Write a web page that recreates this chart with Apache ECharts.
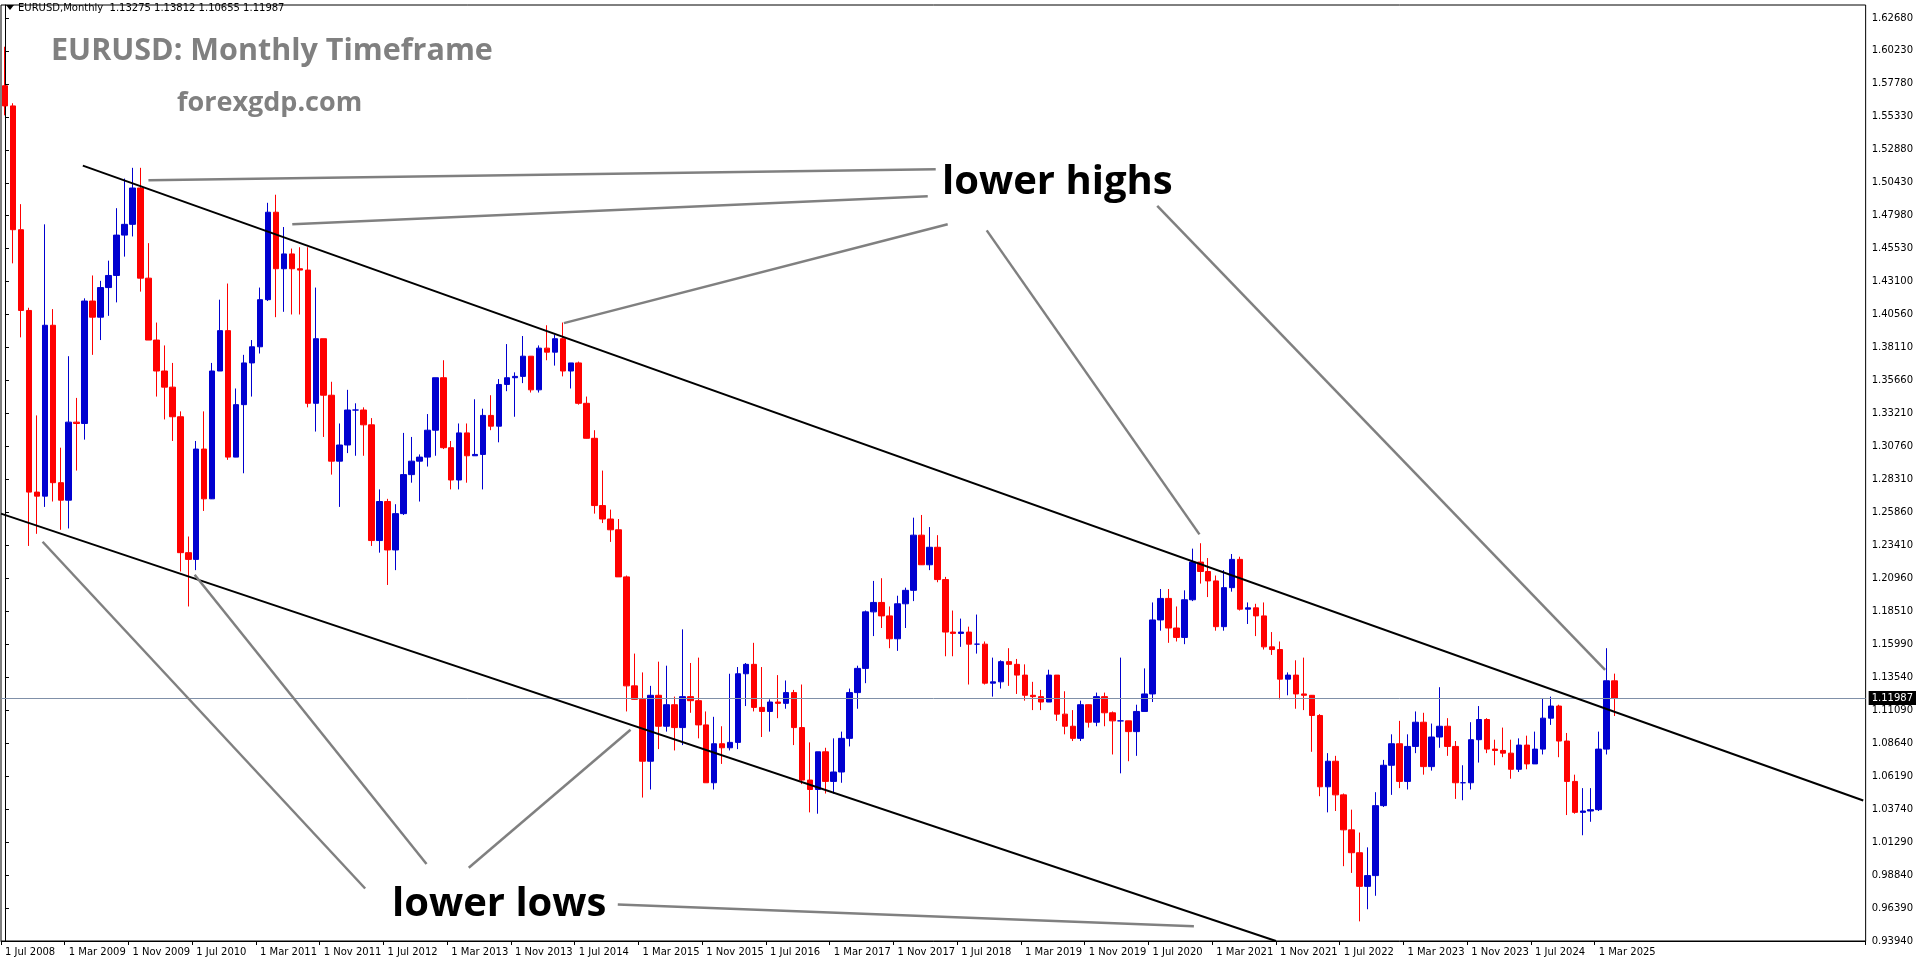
<!DOCTYPE html>
<html><head><meta charset="utf-8">
<script src="https://cdn.jsdelivr.net/npm/echarts@6/dist/echarts.min.js"></script>
<style>html,body{margin:0;padding:0;background:#fff}#c{width:1916px;height:964px}</style>
</head><body><div id="c"></div>
<script>
const months=['Jan','Feb','Mar','Apr','May','Jun','Jul','Aug','Sep','Oct','Nov','Dec'];
const firstOpen=1.5750;
const closes=[1.5600,1.4680,1.4080,1.2730,1.2700,1.3970,
1.2800,1.2670,1.3250,1.3240,1.4150,1.4030,1.4250,1.4340,1.4640,1.4720,1.4990,1.4320,
1.3860,1.3630,1.3510,1.3290,1.2280,1.2230,1.3050,1.2680,1.3630,1.3930,1.2990,1.3380,
1.3690,1.3810,1.4160,1.4810,1.4390,1.4500,1.4390,1.4380,1.3390,1.3870,1.3450,1.2960,
1.3080,1.3340,1.3340,1.3230,1.2370,1.2660,1.2300,1.2570,1.2860,1.2960,1.2990,1.3190,
1.3580,1.3060,1.2820,1.3170,1.3000,1.3010,1.3300,1.3220,1.3530,1.3580,1.3590,1.3740,
1.3490,1.3800,1.3770,1.3870,1.3630,1.3690,1.3390,1.3130,1.2630,1.2530,1.2450,1.2100,
1.1290,1.1190,1.0730,1.1220,1.0990,1.1150,1.0980,1.1210,1.1180,1.1000,1.0570,1.0860,
1.0830,1.0870,1.1380,1.1450,1.1130,1.1100,1.1170,1.1160,1.1240,1.0980,1.0590,1.0520,
1.0800,1.0580,1.0650,1.0900,1.1240,1.1420,1.1840,1.1910,1.1810,1.1640,1.1900,1.2000,
1.2410,1.2190,1.2320,1.2080,1.1690,1.1680,1.1690,1.1600,1.1600,1.1310,1.1320,1.1470,
1.1450,1.1370,1.1220,1.1210,1.1170,1.1370,1.1080,1.0990,1.0900,1.1150,1.1020,1.1210,
1.1090,1.1030,1.1030,1.0950,1.1100,1.1230,1.1780,1.1940,1.1720,1.1650,1.1930,1.2210,
1.2140,1.2070,1.1730,1.2020,1.2230,1.1860,1.1870,1.1810,1.1580,1.1560,1.1340,1.1370,
1.1230,1.1220,1.1070,1.0540,1.0730,1.0480,1.0220,1.0050,0.9800,0.9880,1.0400,1.0700,
1.0860,1.0580,1.0840,1.1020,1.0690,1.0910,1.0990,1.0840,1.0570,1.0570,1.0890,1.1040,
1.0820,1.0810,1.0790,1.0670,1.0850,1.0710,1.0820,1.1050,1.1140,1.0880,1.0580,1.0350,
1.0360,1.0370,1.0820,1.1328,1.1199];
const highs=[1.6040,1.5620,1.4870,1.4100,1.3300,1.4720,
1.4090,1.3060,1.3740,1.3430,1.4170,1.4340,1.4300,1.4450,1.4840,1.5060,1.5140,1.5140,
1.4580,1.3990,1.3820,1.3690,1.3330,1.2400,1.3110,1.3330,1.3690,1.4160,1.4280,1.3500,
1.3750,1.3860,1.4250,1.4880,1.4940,1.4700,1.4540,1.4550,1.4550,1.4250,1.3870,1.3550,
1.3240,1.3490,1.3390,1.3360,1.3280,1.2750,1.2680,1.2640,1.3170,1.3140,1.3010,1.3310,
1.3580,1.3710,1.3110,1.3240,1.3240,1.3420,1.3350,1.3450,1.3570,1.3830,1.3620,1.3890,
1.3740,1.3820,1.3970,1.3900,1.3990,1.3690,1.3700,1.3440,1.3190,1.2890,1.2600,1.2530,
1.2110,1.1530,1.1390,1.1290,1.1470,1.1440,1.1210,1.1710,1.1460,1.1500,1.1100,1.1060,
1.0990,1.1380,1.1430,1.1460,1.1610,1.1430,1.1190,1.1370,1.1330,1.1260,1.1300,1.0870,
1.0800,1.0830,1.0900,1.0950,1.1270,1.1440,1.1850,1.2070,1.2090,1.1880,1.1960,1.2020,
1.2540,1.2560,1.2470,1.2410,1.2100,1.1850,1.1790,1.1730,1.1820,1.1620,1.1500,1.1480,
1.1570,1.1490,1.1450,1.1320,1.1260,1.1410,1.1290,1.1250,1.1110,1.1180,1.1100,1.1240,
1.1240,1.1100,1.1500,1.1020,1.1150,1.1420,1.1910,1.2010,1.2010,1.1880,1.2000,1.2310,
1.2350,1.2240,1.2110,1.2150,1.2270,1.2250,1.1910,1.1900,1.1910,1.1690,1.1620,1.1390,
1.1480,1.1500,1.1180,1.1080,1.0790,1.0770,1.0490,1.0370,1.0200,1.0090,1.0500,1.0740,
1.0930,1.1030,1.0930,1.1100,1.1090,1.1010,1.1280,1.1050,1.0880,1.0700,1.1020,1.1140,
1.1050,1.0890,1.0980,1.0890,1.0900,1.0920,1.0950,1.1200,1.1210,1.1150,1.0940,1.0630,
1.0530,1.0530,1.0950,1.1570,1.1381];
const lows=[1.5530,1.4430,1.3880,1.2330,1.2420,1.2620,
1.2660,1.2450,1.2460,1.2890,1.3120,1.3750,1.3860,1.4040,1.4140,1.4480,1.4630,1.4220,
1.3860,1.3440,1.3270,1.3110,1.2140,1.1880,1.2150,1.2590,1.2690,1.3640,1.2970,1.3060,
1.2870,1.3440,1.3760,1.4150,1.4030,1.4070,1.4050,1.4050,1.3360,1.3180,1.3140,1.2860,
1.2620,1.3020,1.3000,1.3000,1.2330,1.2280,1.2040,1.2150,1.2560,1.2800,1.2660,1.2920,
1.3000,1.3050,1.2750,1.2750,1.2800,1.3000,1.2750,1.3190,1.3100,1.3480,1.3290,1.3540,
1.3470,1.3470,1.3710,1.3670,1.3590,1.3500,1.3380,1.3150,1.2570,1.2500,1.2360,1.2100,
1.1100,1.1260,1.0460,1.0520,1.0820,1.0950,1.0810,1.0850,1.1090,1.0900,1.0570,1.0520,
1.0710,1.0810,1.0820,1.1140,1.1100,1.0910,1.0950,1.1050,1.1120,1.0850,1.0560,1.0350,
1.0340,1.0490,1.0490,1.0570,1.0840,1.1120,1.1310,1.1660,1.1720,1.1570,1.1550,1.1720,
1.1920,1.2200,1.2150,1.2060,1.1510,1.1510,1.1580,1.1300,1.1530,1.1300,1.1210,1.1270,
1.1290,1.1230,1.1180,1.1110,1.1110,1.1180,1.1030,1.0930,1.0880,1.0880,1.0980,1.0990,
1.0990,1.0780,1.0640,1.0730,1.0770,1.1100,1.1170,1.1700,1.1610,1.1620,1.1600,1.1920,
1.2050,1.1950,1.1700,1.1700,1.1990,1.1850,1.1750,1.1660,1.1560,1.1520,1.1190,1.1220,
1.1120,1.1110,1.0800,1.0470,1.0350,1.0360,0.9950,0.9900,0.9540,0.9630,0.9730,1.0390,
1.0480,1.0530,1.0520,1.0790,1.0630,1.0660,1.0830,1.0770,1.0450,1.0440,1.0520,1.0720,
1.0790,1.0700,1.0760,1.0600,1.0650,1.0670,1.0710,1.0780,1.1000,1.0760,1.0330,1.0340,
1.0180,1.0280,1.0360,1.0780,1.1066];
const lastOpen=1.13275;
const currentPrice=1.11987;
const yTickLabels=['0.93940','0.96390','0.98840','1.01290','1.03740','1.06190','1.08640','1.11090','1.13540','1.15990','1.18510','1.20960','1.23410','1.25860','1.28310','1.30760','1.33210','1.35660','1.38110','1.40560','1.43100','1.45530','1.47980','1.50430','1.52880','1.55330','1.57780','1.60230','1.62680'];
const channelUpper=[[9.77,1.5156],[233.2,1.0438]];
const channelLower=[[-0.5,1.2570],[159.5,0.9394]];
const highPointers=[[[18.0,1.5047],[116.8,1.5129]],[[36.05,1.4721],[115.8,1.4929]],[[70.14,1.3986],[118.3,1.4721]],[[123.2,1.4675],[149.9,1.2416]],[[144.6,1.4857],[200.8,1.1409]]];
const lowPointers=[[[4.72,1.2361],[45.2,0.9784]],[[23.8,1.2116],[52.9,0.9966]],[[58.2,0.9938],[78.5,1.0964]],[[76.9,0.9666],[149.2,0.9503]]];

const N=closes.length, PAD=31;
const cats=[]; const ohlc=[];
for(let i=0;i<N;i++){
  const m=(6+i)%12, y=2008+Math.floor((6+i)/12);
  cats.push('1 '+months[m]+' '+y);
  const o=i===0?firstOpen:(i===N-1?lastOpen:closes[i-1]);
  ohlc.push([o,closes[i],lows[i],highs[i]]);
}
for(let i=0;i<PAD;i++)cats.push('');
const lineSeries=(d,color,w)=>({type:'line',xAxisIndex:1,data:d,symbol:'none',silent:true,animation:false,lineStyle:{color:color,width:w},z:5});
const series=[{type:'candlestick',data:ohlc,barWidth:6,animation:false,
  itemStyle:{color:'#0000d0',color0:'#ff0000',borderColor:'#0000d0',borderColor0:'#ff0000',borderWidth:1},
  markLine:{symbol:'none',silent:true,animation:false,data:[{yAxis:currentPrice}],
    lineStyle:{color:'#8090a8',width:1,type:'solid'},
    label:{position:'end',formatter:currentPrice.toFixed(5),backgroundColor:'#000',color:'#fff',fontSize:10,fontFamily:'DejaVu Sans',padding:[2,3],distance:3}}},
  lineSeries(channelUpper,'#000',2),lineSeries(channelLower,'#000',2)];
highPointers.concat(lowPointers).forEach(p=>series.push(lineSeries(p,'#808080',2.5)));
const chart=echarts.init(document.getElementById('c'));
chart.setOption({
  animation:false,
  grid:{left:1,right:49,top:5,bottom:23,show:true,borderColor:'#000',borderWidth:1},
  xAxis:[{type:'category',data:cats,boundaryGap:true,axisLine:{lineStyle:{color:'#000'}},
    axisTick:{show:true,interval:(i)=>i%8===0&&i<N,length:4,lineStyle:{color:'#000'}},
    axisLabel:{interval:(i)=>i%8===0&&i<N,align:'left',fontSize:10,fontFamily:'DejaVu Sans',color:'#000',margin:6},splitLine:{show:false}},
    {type:'value',min:-0.5,max:N+PAD-0.5,show:false}],
  yAxis:{type:'value',position:'right',min:0.9394,max:1.635,interval:0.0245,scale:true,
    axisLine:{show:true,lineStyle:{color:'#000'}},axisTick:{show:true,length:4,lineStyle:{color:'#000'}},
    splitLine:{show:false},
    axisLabel:{showMaxLabel:false,fontSize:10,fontFamily:'DejaVu Sans',color:'#000',margin:6,
      formatter:(v)=>{const k=Math.round((v-0.9394)/0.0245);return yTickLabels[k]||'';}}},
  graphic:[
    {type:'polygon',shape:{points:[[6,5],[14,5],[10,10]]},style:{fill:'#000'}},
    {type:'text',left:18,top:3,style:{text:'EURUSD,Monthly  1.13275 1.13812 1.10655 1.11987',font:'10px "DejaVu Sans"',fill:'#000'}},
    {type:'text',left:51,top:36,style:{text:'EURUSD: Monthly Timeframe',font:'bold 30.5px "Open Sans"',fill:'#808080'}},
    {type:'text',left:177,top:90,style:{text:'forexgdp.com',font:'bold 27px "Open Sans"',fill:'#808080'}},
    {type:'text',left:942,top:163,style:{text:'lower highs',font:'bold 40px "Open Sans"',fill:'#000'}},
    {type:'text',left:392,top:885,style:{text:'lower lows',font:'bold 40px "Open Sans"',fill:'#000'}}
  ],
  series:series
});
</script></body></html>
